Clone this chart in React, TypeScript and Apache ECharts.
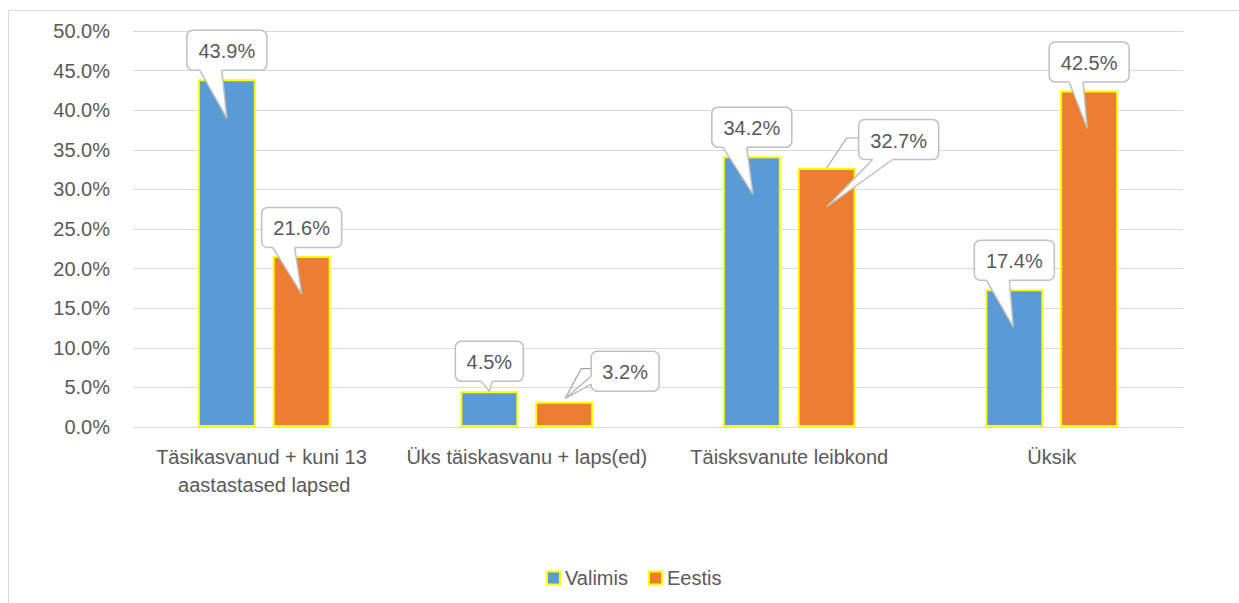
import React, { useEffect, useRef } from "react";
import * as echarts from "echarts";

const categories = [
  "Täsikasvanud + kuni 13 aastastased lapsed",
  "Üks täiskasvanu + laps(ed)",
  "Täisksvanute leibkond",
  "Üksik",
];
const valimis = [43.9, 4.5, 34.2, 17.4];
const eestis = [21.6, 3.2, 32.7, 42.5];
const seriesNames = ["Valimis", "Eestis"];
const yMin = 0;
const yMax = 50;
const yStep = 5;

type Callout = {
  box: [number, number];
  tip: [number, number];
  side: "bottom" | "left";
  base: [number, number];
  leader?: [number, number][];
};

const valimisCallouts: Callout[] = [
  { box: [0, -29], tip: [0, 39], side: "bottom", base: [-27, -5] },
  { box: [0, -30], tip: [0, 0], side: "bottom", base: [-8, 3] },
  { box: [0, -29], tip: [1, 38], side: "bottom", base: [-29, -5] },
  { box: [0, -29], tip: [-1, 38], side: "bottom", base: [-28, -5] },
];
const eestisCallouts: Callout[] = [
  { box: [0, -28.5], tip: [0, 38], side: "bottom", base: [-29, -7] },
  { box: [61, -30.5], tip: [1, -3], side: "left", base: [5, 13], leader: [[1, -3], [17, -33], [27, -33]] },
  { box: [72, -28.5], tip: [0, 39], side: "bottom", base: [-26, -6], leader: [[0, 0], [20, -30], [32, -30]] },
  { box: [0, -28.5], tip: [-2, 38], side: "bottom", base: [-20, -6] },
];

const FONT = '"Liberation Sans", Arial, sans-serif';
const TEXT = "#595959";
const BAR_W = 58;
const BAR_GAP = 0.29;

function makeCallout(sign: number, layout: Callout[]) {
  return (params: any, api: any) => {
    const i = api.value(0);
    const v = api.value(1);
    const p = api.coord([i, v]);
    const off = (sign * BAR_W * (1 + BAR_GAP)) / 2;
    const cx = p[0] + off;
    const cy = p[1];
    const c = layout[params.dataIndex];
    const text = Number(v).toFixed(1) + "%";
    const w = text.length >= 5 ? 80 : 68;
    const h = 40;
    const bx = cx + c.box[0];
    const by = cy + c.box[1];
    const x0 = bx - w / 2;
    const y0 = by - h / 2;
    const y1 = by + h / 2;
    const tip = [cx + c.tip[0], cy + c.tip[1]];
    let b1: number[], b2: number[], b1in: number[], b2in: number[];
    if (c.side === "bottom") {
      b1 = [bx + c.base[0], y1];
      b2 = [bx + c.base[1], y1];
      b1in = [b1[0], y1 - 2];
      b2in = [b2[0], y1 - 2];
    } else {
      b1 = [x0, by + c.base[0]];
      b2 = [x0, by + c.base[1]];
      b1in = [x0 + 2, b1[1]];
      b2in = [x0 + 2, b2[1]];
    }
    const children: any[] = [];
    if (c.leader) {
      children.push({
        type: "polyline",
        shape: { points: c.leader.map((q) => [cx + q[0], cy + q[1]]) },
        style: { fill: null, stroke: "#A6A6A6", lineWidth: 1.2 },
      });
    }
    children.push(
      {
        type: "rect",
        shape: { x: x0, y: y0, width: w, height: h, r: 6 },
        style: { fill: "#FFFFFF", stroke: "#BFBFBF", lineWidth: 1.5 },
      },
      {
        type: "polygon",
        shape: { points: [b1in, b1, tip, b2, b2in] },
        style: { fill: "#FFFFFF", stroke: null },
      },
      {
        type: "polyline",
        shape: { points: [b1, tip, b2] },
        style: { fill: null, stroke: "#BFBFBF", lineWidth: 1.5 },
      },
      {
        type: "text",
        style: {
          text,
          x: bx,
          y: by + 1,
          align: "center",
          verticalAlign: "middle",
          fill: TEXT,
          font: `20px ${FONT}`,
        },
      }
    );
    return { type: "group", children };
  };
}

export default function App() {
  const ref = useRef<HTMLDivElement>(null);
  useEffect(() => {
    document.body.style.margin = "0";
    const chart = echarts.init(ref.current!, null, { renderer: "svg" });
    chart.setOption({
      animation: false,
      backgroundColor: "#FFFFFF",
      textStyle: { fontFamily: FONT },
      graphic: [
        {
          type: "rect",
          shape: { x: 8.5, y: 10.5, width: 1300, height: 700 },
          style: { fill: null, stroke: "#D9D9D9", lineWidth: 1 },
          silent: true,
          z: -10,
        },
      ],
      grid: { left: 133, right: 56, top: 31, bottom: 176 },
      legend: {
        data: seriesNames,
        left: 541,
        top: 563,
        itemWidth: 13,
        itemHeight: 13,
        itemGap: 20,
        icon: "rect",
        textStyle: { color: TEXT, fontSize: 20, fontFamily: FONT },
      },
      xAxis: {
        type: "category",
        data: categories,
        axisLine: { show: true, lineStyle: { color: "#D9D9D9" } },
        axisTick: { show: false },
        axisLabel: {
          interval: 0,
          color: TEXT,
          fontSize: 20,
          width: 300,
          overflow: "break",
          lineHeight: 28,
          margin: 16,
        },
      },
      yAxis: {
        type: "value",
        min: yMin,
        max: yMax,
        interval: yStep,
        axisLine: { show: false },
        axisTick: { show: false },
        splitLine: { lineStyle: { color: "#D9D9D9", width: 1 } },
        axisLabel: {
          color: TEXT,
          fontSize: 20,
          margin: 23,
          formatter: (v: number) => v.toFixed(1) + "%",
        },
      },
      series: [
        {
          name: seriesNames[0],
          type: "bar",
          data: valimis,
          barWidth: BAR_W,
          barGap: BAR_GAP * 100 + "%",
          itemStyle: { color: "#5B9BD5", borderColor: "#FFFF00", borderWidth: 2 },
        },
        {
          name: seriesNames[1],
          type: "bar",
          data: eestis,
          barWidth: BAR_W,
          barGap: BAR_GAP * 100 + "%",
          itemStyle: { color: "#ED7D31", borderColor: "#FFFF00", borderWidth: 2 },
        },
        {
          name: "Valimis callouts",
          type: "custom",
          clip: false,
          z: 10,
          silent: true,
          data: valimis.map((v, i) => [i, v]),
          renderItem: makeCallout(-1, valimisCallouts),
        },
        {
          name: "Eestis callouts",
          type: "custom",
          clip: false,
          z: 10,
          silent: true,
          data: eestis.map((v, i) => [i, v]),
          renderItem: makeCallout(1, eestisCallouts),
        },
      ],
    });
    return () => chart.dispose();
  }, []);
  return <div ref={ref} style={{ width: 1239, height: 603 }} />;
}
